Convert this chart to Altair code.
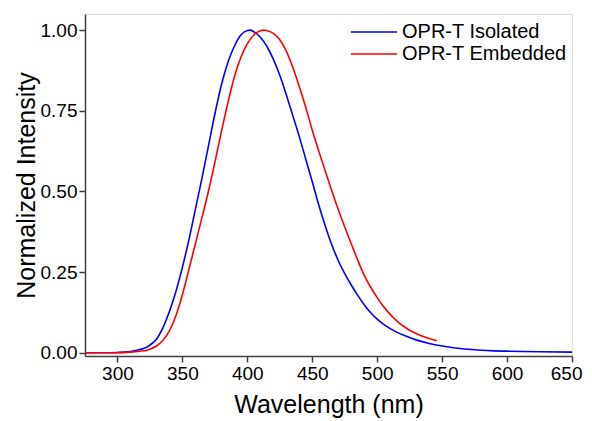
import altair as alt
import pandas as pd

# Wavelength (nm) and normalized intensity
iso_wl = [275, 290, 300, 305, 310, 315, 320, 325, 330, 335, 340, 345, 350, 355, 360,
          365, 370, 375, 380, 385, 390, 395, 400, 402, 405, 410, 415, 420, 425, 430,
          435, 440, 445, 450, 455, 460, 465, 470, 475, 480, 485, 490, 495, 500, 505,
          510, 515, 520, 525, 530, 540, 550, 560, 570, 580, 590, 600, 625, 650]
iso_val = [0.000, 0.000, 0.001, 0.002, 0.004, 0.008, 0.013, 0.024, 0.042, 0.078, 0.128,
           0.190, 0.265, 0.350, 0.445, 0.540, 0.640, 0.740, 0.830, 0.900, 0.950, 0.985,
           0.999, 1.000, 0.995, 0.978, 0.950, 0.910, 0.860, 0.800, 0.735, 0.670, 0.600,
           0.530, 0.458, 0.393, 0.335, 0.286, 0.245, 0.210, 0.178, 0.149, 0.124, 0.104,
           0.088, 0.075, 0.064, 0.055, 0.047, 0.040, 0.029, 0.021, 0.015, 0.011, 0.008,
           0.006, 0.005, 0.003, 0.002]

emb_wl = [275, 300, 310, 320, 325, 330, 335, 340, 345, 350, 355, 360, 365, 370, 375,
          380, 385, 390, 395, 400, 405, 410, 413, 415, 420, 425, 430, 435, 440, 445,
          450, 455, 460, 465, 470, 475, 480, 485, 490, 495, 500, 505, 510, 515, 520,
          525, 530, 535, 540, 546]
emb_val = [0.000, 0.000, 0.002, 0.006, 0.011, 0.021, 0.039, 0.068, 0.115, 0.180, 0.258,
           0.338, 0.418, 0.500, 0.590, 0.685, 0.775, 0.855, 0.915, 0.958, 0.985, 0.998,
           1.000, 0.999, 0.990, 0.970, 0.935, 0.885, 0.825, 0.760, 0.690, 0.625, 0.563,
           0.502, 0.444, 0.390, 0.338, 0.287, 0.240, 0.203, 0.171, 0.143, 0.119, 0.099,
           0.083, 0.070, 0.060, 0.051, 0.044, 0.037]

series_names = ["OPR-T Isolated", "OPR-T Embedded"]
series_colors = ["#0000FF", "#FF0000"]
x_ticks = [300, 350, 400, 450, 500, 550, 600, 650]
y_ticks = [0.0, 0.25, 0.5, 0.75, 1.0]

df = pd.concat([
    pd.DataFrame({"wl": iso_wl, "val": iso_val, "series": series_names[0], "order": 0}),
    pd.DataFrame({"wl": emb_wl, "val": emb_val, "series": series_names[1], "order": 1}),
])

font = "Liberation Sans"

chart = alt.Chart(df).mark_line(strokeWidth=1.6, clip=True, interpolate="monotone").encode(
    x=alt.X("wl:Q",
            scale=alt.Scale(domain=[275, 650], nice=False, zero=False),
            axis=alt.Axis(values=x_ticks, title="Wavelength (nm)", grid=False,
                          tickSize=6, labelPadding=2, titlePadding=9,
                          labelFlush=1, labelFlushOffset=10,
                          labelFontSize=19, titleFontSize=25, labelFont=font, titleFont=font,
                          titleFontWeight="normal", labelColor="black", titleColor="black",
                          domainColor="#404040", tickColor="#404040",
                          domainWidth=1.5, tickWidth=1.5)),
    y=alt.Y("val:Q",
            scale=alt.Scale(domain=[-0.01, 1.05], nice=False, zero=False),
            axis=alt.Axis(values=y_ticks, format=".2f", title="Normalized Intensity",
                          grid=False, tickSize=6, labelPadding=2, titlePadding=1,
                          labelFlush=False,
                          labelFontSize=19, titleFontSize=25, labelFont=font, titleFont=font,
                          titleFontWeight="normal", labelColor="black", titleColor="black",
                          domainColor="#404040", tickColor="#404040",
                          domainWidth=1.5, tickWidth=1.5)),
    color=alt.Color("series:N",
                    scale=alt.Scale(domain=series_names, range=series_colors),
                    legend=alt.Legend(title=None, orient="none", legendX=278, legendY=7,
                                      symbolType="M-2.3,0L2.3,0", symbolSize=400,
                                      symbolStrokeWidth=1.6, labelFontSize=20,
                                      labelFont=font, labelColor="black", labelLimit=0,
                                      labelOffset=17, rowPadding=1, padding=0)),
    order=alt.Order("order:Q"),
    detail="series:N",
).properties(
    width=487, height=342,
    padding={"left": 77, "top": 6, "right": 12, "bottom": 65},
    autosize=alt.AutoSizeParams(type="none"),
).configure_view(
    stroke="#404040", strokeWidth=1.5
).configure(background="white")

chart.save("out.html", embed_options={"renderer": "svg", "actions": False})
